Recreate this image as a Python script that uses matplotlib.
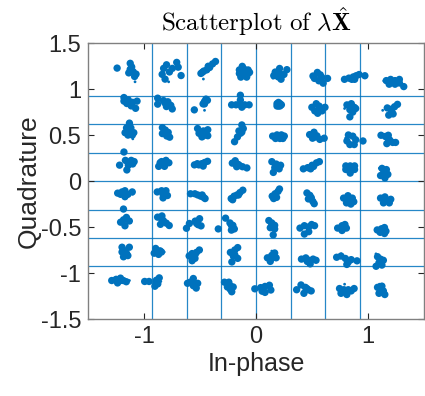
import numpy as np
import matplotlib.pyplot as plt

plt.rcParams['font.family'] = ['Liberation Sans', 'DejaVu Sans']
plt.rcParams['mathtext.fontset'] = 'cm'

# cluster centres of the received symbols, top row first, left to right
centre_i = [
    [-1.11, -0.76, -0.44, -0.11, 0.21, 0.56, 0.88, 1.24],
    [-1.14, -0.80, -0.46, -0.14, 0.20, 0.55, 0.85, 1.21],
    [-1.13, -0.81, -0.47, -0.14, 0.20, 0.53, 0.85, 1.18],
    [-1.14, -0.83, -0.485, -0.16, 0.18, 0.50, 0.84, 1.15],
    [-1.17, -0.83, -0.52, -0.17, 0.17, 0.48, 0.82, 1.15],
    [-1.17, -0.84, -0.53, -0.22, 0.14, 0.47, 0.78, 1.12],
    [-1.17, -0.87, -0.545, -0.19, 0.14, 0.47, 0.81, 1.11],
    [-1.21, -0.89, -0.56, -0.23, 0.08, 0.44, 0.81, 1.11],
]
centre_q = [
    [1.19, 1.20, 1.21, 1.17, 1.16, 1.13, 1.12, 1.08],
    [0.87, 0.85, 0.84, 0.83, 0.83, 0.79, 0.79, 0.77],
    [0.54, 0.53, 0.52, 0.52, 0.49, 0.48, 0.45, 0.46],
    [0.20, 0.20, 0.19, 0.17, 0.16, 0.16, 0.14, 0.10],
    [-0.13, -0.13, -0.15, -0.15, -0.15, -0.18, -0.21, -0.21],
    [-0.42, -0.43, -0.46, -0.48, -0.48, -0.51, -0.51, -0.53],
    [-0.77, -0.77, -0.80, -0.80, -0.82, -0.86, -0.84, -0.86],
    [-1.08, -1.09, -1.11, -1.15, -1.17, -1.18, -1.18, -1.18],
]

# points of each cluster relative to its centre (hundredths)
spread = [
    [[(-10, 3), (-1, 7), (1, 0), (3, -2), (-1, 2), (2, -4), (0, 4), (-2, -1)],
     [(-5, 2), (4, 7), (7, -4), (-4, -7), (-1, -1), (-6, -3), (1, 2), (5, 3), (-3, 5)],
     [(-4, -3), (-2, -1), (0, 0), (2, 2), (4, 5), (6, 7), (-3, -2), (1, 3)],
     [(-3, 3), (0, 4), (3, 3), (-3, 0), (0, 0), (3, 0), (-2, -3), (2, -3), (4, 1), (-1, 6)],
     [(-3, 2), (0, 5), (3, 0), (-1, -2), (1, -4), (5, 4), (-4, -1), (0, 1)],
     [(-4, 1), (-1, 4), (2, 0), (0, -3), (3, -5), (6, -1), (-3, -1), (1, 2)],
     [(-7, -1), (-4, 0), (-1, 1), (1, 2), (3, 3), (7, 2), (0, -1), (-2, -1)],
     [(-6, 1), (-3, 2), (0, 1), (3, 2), (-4, -2), (0, -2), (3, -1), (6, -4), (-2, 0)]],
    [[(-3, 3), (0, 1), (3, -1), (6, 0), (2, -4), (5, -6), (-1, -2), (-3, 0)],
     [(-6, 4), (-6, -1), (-2, 2), (1, 1), (3, -2), (4, -5), (0, -3), (-1, 0)],
     [(-7, -5), (0, 2), (1, 4), (-1, 0), (2, 3), (0, 0)],
     [(-6, 0), (-3, 0), (0, 0), (3, 0), (6, 0), (0, 4), (0, 8), (1, -2)],
     [(-1, 1), (1, 1), (0, -1), (1, -1), (-1, -1), (0, 2), (2, 0)],
     [(-4, 1), (-1, 4), (2, 0), (0, -4), (3, -2), (-2, -2), (5, 1), (1, 2)],
     [(-3, 3), (0, 4), (2, 1), (-1, -1), (1, -3), (-1, -7), (3, 0), (0, 0)],
     [(-3, 2), (0, -1), (2, 3), (4, 5), (1, -3), (-2, -4), (0, 1)]],
    [[(0, 7), (-2, 3), (1, 3), (-3, -1), (0, 0), (3, -1), (-1, -3), (2, -3), (0, 4)],
     [(-2, 4), (0, 2), (2, 0), (-2, -1), (1, -3), (3, -4), (0, 0)],
     [(-4, 4), (0, 2), (3, 3), (-3, 0), (0, -2), (3, -2), (-1, -3), (1, 0)],
     [(1, 7), (2, 4), (-1, 2), (0, 0), (-2, -3), (-4, -7), (1, 1)],
     [(-4, 0), (-1, 1), (2, 1), (4, 0), (-2, -2), (1, -2), (3, -2), (0, 0)],
     [(-4, 2), (-1, 4), (1, 1), (-2, -1), (3, -2), (6, -1), (0, 0)],
     [(-2, 4), (1, 3), (3, 0), (2, -4), (-1, -4), (-3, -1), (8, -1)],
     [(-5, 3), (-2, 2), (0, 3), (1, -1), (3, -3), (-1, -4), (5, -3), (0, 0)]],
    [[(-3, 9), (-6, -2), (-2, 2), (2, 2), (4, 1), (0, -2), (-1, -6), (3, -1), (0, 0)],
     [(-3, -3), (-1, 1), (2, 2), (4, 0), (1, -3), (-2, 0), (0, -1)],
     [(-5, -1), (-2, -1), (0, 0), (2, 1), (4, 2), (1, -2), (-3, 0)],
     [(-4, 2), (-2, 4), (0, 1), (3, -1), (6, -2), (-1, -1), (1, 0)],
     [(-3, 4), (0, 2), (-1, -1), (2, -2), (-2, -5), (3, 1), (0, 0)],
     [(-6, -2), (-3, -1), (0, 1), (3, 3), (5, 4), (-1, -2), (1, 0)],
     [(-3, 2), (0, 2), (3, 2), (-3, -1), (0, -1), (3, -1), (0, -4)],
     [(-2, 3), (1, 2), (-1, -1), (2, -2), (0, -5), (-3, -3), (0, 0)]],
    [[(-5, 0), (-2, 1), (0, 2), (2, -1), (0, -3), (5, 1), (-3, -1)],
     [(-4, 1), (-1, 2), (1, 0), (0, -4), (2, 2), (3, -2), (0, -1)],
     [(-5, 1), (-2, 1), (0, 0), (2, -1), (4, -2), (5, -3), (3, 0)],
     [(-4, -3), (-2, -1), (0, 0), (2, 2), (4, 4), (-3, -4), (1, 0)],
     [(-2, -1), (0, 1), (2, 3), (3, 5), (-1, -3), (1, -2), (0, 0)],
     [(-2, 4), (0, 2), (1, 0), (-1, -1), (2, -3), (3, -5), (0, 0)],
     [(-3, 2), (0, 4), (3, 2), (-1, -2), (2, -3), (4, -1), (0, 0)],
     [(-3, 2), (0, 3), (2, 0), (-1, -2), (3, -2), (4, 1), (0, 0)]],
    [[(-1, 9), (-3, -2), (-1, 0), (1, 2), (3, -1), (0, -5), (1, 1)],
     [(-3, 3), (0, 4), (1, 0), (3, -2), (-1, -3), (5, -4), (0, 1)],
     [(-7, -4), (-5, 0), (-1, 2), (1, -1), (3, -2), (2, 4), (0, 0)],
     [(-9, -3), (-4, 6), (-1, 2), (1, 0), (2, -3), (0, -4), (0, 0)],
     [(-2, 4), (0, 2), (2, 0), (-1, -2), (2, -3), (1, -8), (0, 0)],
     [(-6, 0), (-3, 2), (0, 1), (2, 3), (0, -3), (-3, -5), (4, 2)],
     [(-4, 0), (-1, 2), (1, 3), (2, 0), (-1, -2), (0, 0)],
     [(-3, 0), (0, 1), (2, 2), (-1, -2), (3, -1), (2, -3), (0, 0)]],
    [[(-2, 4), (3, 4), (-2, 0), (1, -1), (-1, -4), (2, -3), (0, 1)],
     [(-2, 3), (1, 1), (-3, -1), (0, -2), (2, 0), (-1, 0)],
     [(-4, -1), (-2, 1), (1, 2), (3, 4), (0, -3), (-2, -5), (0, 0)],
     [(-3, 2), (0, 4), (2, 6), (-1, -1), (2, -3), (-2, -6), (0, 0)],
     [(-3, -1), (0, 1), (2, 3), (-1, -4), (3, -1), (0, -1)],
     [(-5, 1), (-2, 2), (0, 0), (3, 1), (5, 0), (1, -3), (-1, -1)],
     [(-7, 1), (-4, 2), (-1, 0), (1, -3), (3, -1), (7, -2), (0, -5)],
     [(-2, 3), (0, 1), (2, 0), (-1, -2), (1, -4), (-3, -5), (0, -1)]],
    [[(-6, 0), (-3, 1), (0, 2), (2, 0), (4, -1), (-2, -2), (0, 0)],
     [(-8, 0), (-5, 0), (0, 1), (2, 3), (1, -2), (-1, -4), (0, -1)],
     [(-2, 1), (0, 4), (0, -2), (2, -4), (-4, 0), (3, 0), (0, 0)],
     [(-4, 4), (-1, 4), (-2, 0), (0, -2), (1, -4), (2, 0), (0, 1)],
     [(-7, 0), (-3, 1), (0, 2), (3, 3), (4, -1), (0, -3), (-2, -2)],
     [(-6, 0), (-3, 4), (0, 2), (2, 0), (4, -1), (-1, -3), (1, 1)],
     [(-5, 1), (-2, 0), (1, 0), (3, -1), (5, 1), (0, -4), (-4, -3)],
     [(-2, 2), (0, 0), (2, -1), (3, -4), (-1, -3), (1, 3), (0, -2)]],
]

# isolated small dots
small_i = [-1.08, -0.78, -0.47, 0.15, 1.14, -0.46, 0.79, 1.13, -1.10, 0.80,
           1.10, -1.10, -1.12, -0.82, 0.14, 0.76, 1.07, -1.13, -0.85, 0.79, 1.10]
small_q = [1.08, 1.08, 1.11, 1.12, 1.09, 0.77, 0.79, 0.77, 0.46, 0.47,
           0.14, -0.14, -0.45, -0.77, -0.76, -0.79, -0.79, -1.08, -1.09, -1.12, -1.12]

# decision boundaries of the 64-QAM slicer
boundaries = [-0.926, -0.617, -0.309, 0.0, 0.309, 0.617, 0.926]

blue = '#0072BD'

pts_i, pts_q = [], []
for r in range(8):
    for c in range(8):
        for dx, dy in spread[r][c]:
            pts_i.append(centre_i[r][c] + 1.3 * dx / 100)
            pts_q.append(centre_q[r][c] + 1.3 * dy / 100)

fig = plt.figure(figsize=(4.25, 3.96), dpi=100)
ax = fig.add_axes([0.207, 0.194, 0.791, 0.697])

for b in boundaries:
    ax.axvline(b, color=blue, lw=0.9, alpha=0.85, zorder=1)
    ax.axhline(b, color=blue, lw=0.9, alpha=0.85, zorder=1)

ax.scatter(pts_i, pts_q, s=28, color=blue, edgecolors='none', zorder=3)
ax.scatter(small_i, small_q, s=4, color=blue, edgecolors='none', zorder=3)

ax.set_xlim(-1.5, 1.5)
ax.set_ylim(-1.5, 1.5)
ax.set_xticks([-1, 0, 1])
ax.set_xticklabels(['-1', '0', '1'])
ax.set_yticks([-1.5, -1, -0.5, 0, 0.5, 1, 1.5])
ax.set_yticklabels(['-1.5', '-1', '-0.5', '0', '0.5', '1', '1.5'])
ax.tick_params(direction='in', length=4, width=0.8, top=True, right=True,
               colors='#262626', labelsize=17, pad=5)
for sp in ax.spines.values():
    sp.set_color('#808080')
    sp.set_linewidth(1.0)

ax.set_xlabel('In-phase', fontsize=18, color='#262626', labelpad=3)
ax.set_ylabel('Quadrature', fontsize=19, color='#262626', labelpad=0)
ax.set_title(r'$\mathrm{Scatterplot\ of\ }\lambda\hat{\mathbf{X}}$',
             fontsize=18, color='black', pad=9)

fig.savefig('out.png', dpi=100)
